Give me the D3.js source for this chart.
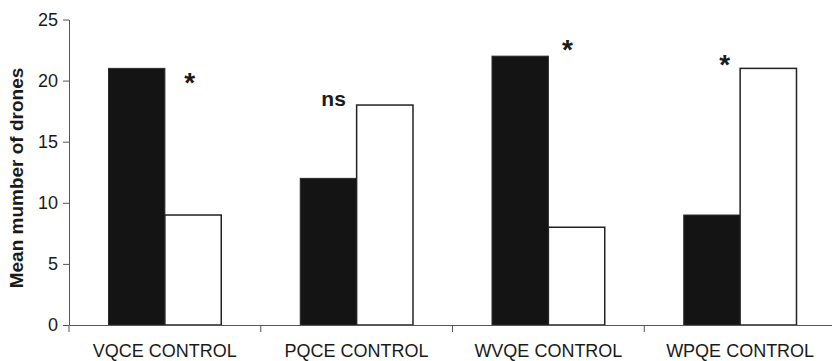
<!DOCTYPE html>
<head>
  <meta charset="utf-8">
  <script src="https://d3js.org/d3.v7.min.js"></script>
  <style>
    body { margin:0; background:#fff; }
    text { font-family: "Liberation Sans", Arial, sans-serif; fill:#1a1a1a; }
  </style>
</head>
<body>
<script>
// data
var categories = ["VQCE CONTROL", "PQCE CONTROL", "WVQE CONTROL", "WPQE CONTROL"];
var treated = [21, 12, 22, 9];   // black bars
var control = [9, 18, 8, 21];    // white bars
var yTicks = [0, 5, 10, 15, 20, 25];
var sigLabels = ["*", "ns", "*", "*"];
var sigLevels = [20.2, 17.9, 22.9, 21.7];   // height of the marks, in drone units

var W = 832, H = 361;
var svg = d3.select("body").append("svg").attr("width", W).attr("height", H);

var x = d3.scaleBand().domain(categories).range([69, 836]).padding(0);
var y = d3.scaleLinear().domain([0, 25]).range([325, 19.5]);
var inner = d3.scaleBand().domain(["t", "c"])
  .range([x.bandwidth() * 0.206, x.bandwidth() * 0.794]).padding(0);
var sigOffset = [0.63, 0.38, 0.6, 0.42];   // horizontal spot inside the group

var rows = categories.map(function(c, i){ return {cat: c, t: treated[i], c: control[i], i: i} });

// bars
var g = svg.selectAll(".grp").data(rows).enter().append("g")
  .attr("transform", function(d){ return "translate(" + x(d.cat) + ",0)" });

g.append("rect")
  .attr("x", inner("t")).attr("width", inner.bandwidth())
  .attr("y", function(d){ return y(d.t) })
  .attr("height", function(d){ return y(0) - y(d.t) })
  .attr("fill", "#141414").attr("stroke", "#2a2a2a").attr("stroke-width", 1);

g.append("rect")
  .attr("x", inner("c")).attr("width", inner.bandwidth())
  .attr("y", function(d){ return y(d.c) })
  .attr("height", function(d){ return y(0) - y(d.c) })
  .attr("fill", "#fff").attr("stroke", "#222").attr("stroke-width", 1.5);

// significance marks
g.append("text")
  .attr("x", function(d){ return x.bandwidth() * sigOffset[d.i] })
  .attr("y", function(d){ return y(sigLevels[d.i]) })
  .attr("text-anchor", "middle")
  .attr("font-weight", "bold")
  .attr("font-size", function(d){ return sigLabels[d.i] == "*" ? 28 : 21 })
  .attr("dy", function(d){ return sigLabels[d.i] == "*" ? "0.5em" : 0 })
  .text(function(d){ return sigLabels[d.i] });

// y axis
var yAxis = svg.append("g").attr("transform", "translate(69,0)")
  .call(d3.axisLeft(y).tickValues(yTicks).tickSize(6).tickSizeOuter(0).tickPadding(5));
yAxis.selectAll("text").attr("font-size", 18).attr("font-family", "Liberation Sans, Arial, sans-serif").attr("fill", "#1a1a1a");
yAxis.selectAll("line,path").attr("stroke", "#555");

// x axis: labels in the middle of each group, ticks at the group edges
var xAxis = svg.append("g").attr("transform", "translate(0,325)")
  .call(d3.axisBottom(x).tickSize(0).tickSizeOuter(0).tickPadding(19));
xAxis.selectAll("text").attr("font-size", 18).attr("font-family", "Liberation Sans, Arial, sans-serif").attr("fill", "#1a1a1a");
xAxis.select("path").attr("stroke", "#555");
xAxis.selectAll(".edge").data(categories).enter().append("line")
  .attr("class", "edge")
  .attr("x1", function(d){ return x(d) }).attr("x2", function(d){ return x(d) })
  .attr("y1", 0).attr("y2", 7).attr("stroke", "#555");

// axis title
svg.append("text")
  .attr("transform", "translate(23,178) rotate(-90)")
  .attr("text-anchor", "middle")
  .attr("font-weight", "bold").attr("font-size", 19)
  .text("Mean mumber of drones");
</script>
</body>
